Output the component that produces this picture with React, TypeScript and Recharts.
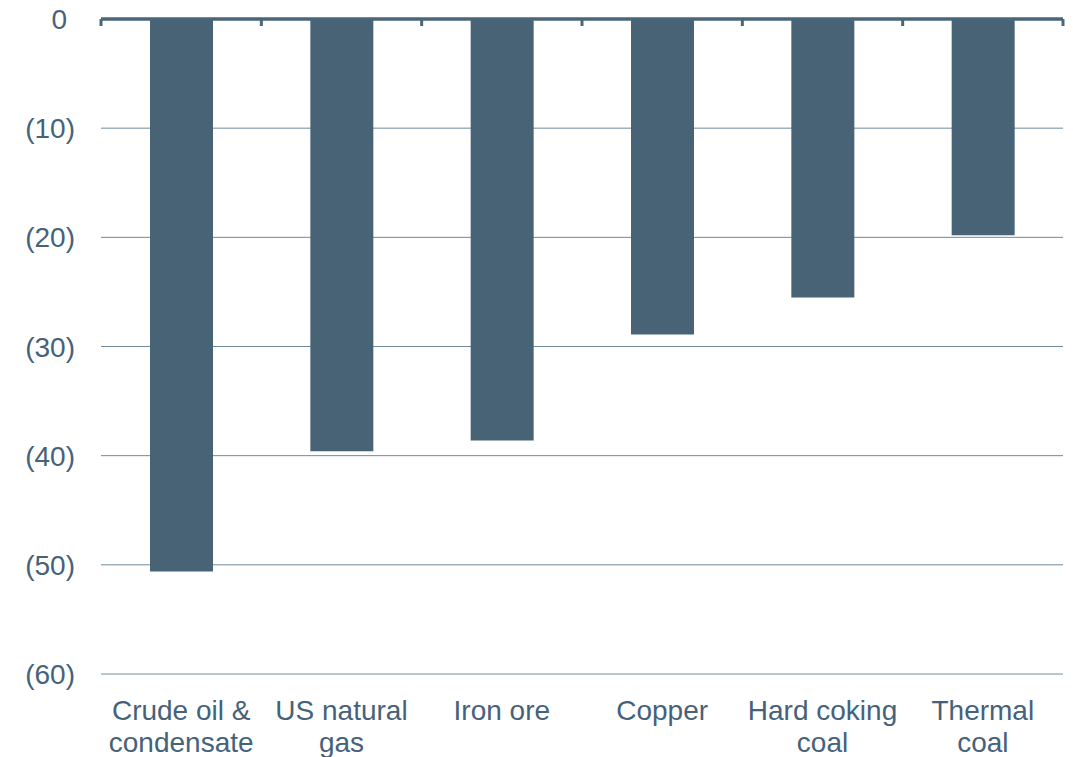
import React from 'react';
import { BarChart, Bar, XAxis, YAxis, CartesianGrid, ReferenceLine } from 'recharts';

const categories = ['Crude oil & condensate', 'US natural gas', 'Iron ore', 'Copper', 'Hard coking coal', 'Thermal coal'];
const tickLabelLines = [
  ['Crude oil &', 'condensate'],
  ['US natural', 'gas'],
  ['Iron ore'],
  ['Copper'],
  ['Hard coking', 'coal'],
  ['Thermal', 'coal'],
];
const values = [-50.6, -39.6, -38.6, -28.9, -25.5, -19.8];
const yTicks = [-60, -50, -40, -30, -20, -10, 0];

const data = categories.map((c, i) => ({ name: c, value: values[i] }));

const TEXT = '#46627A';
const BAR = '#476375';
const AXIS = '#4A667A';
const GRID = '#6F8A9B';
const FONT = 'Arial, "Liberation Sans", sans-serif';

const YTick = (props: any) => {
  const { x, y, payload } = props;
  const v = payload.value as number;
  const label = v < 0 ? `(${Math.abs(v)})` : `${v}`;
  const dx = v < 0 ? -26 : -34;
  return (
    <text x={x + dx} y={y + 10} textAnchor="end" fill={TEXT} fontSize={28} fontFamily={FONT}>
      {label}
    </text>
  );
};

const XTick = (props: any) => {
  const { x, y, index } = props;
  const lines = tickLabelLines[index] || [];
  return (
    <g>
      {lines.map((l, i) => (
        <text key={i} x={x} y={y + 46 + i * 32} textAnchor="middle" fill={TEXT} fontSize={28} fontFamily={FONT}>
          {l}
        </text>
      ))}
    </g>
  );
};

const BoundaryTick = (props: any) => {
  const { x, y, index, payload } = props;
  const half = payload && payload.offset ? payload.offset : 0;
  const last = index === categories.length - 1;
  return (
    <g>
      <line x1={x - half} y1={y} x2={x - half} y2={y + 7} stroke={AXIS} strokeWidth={3} />
      {last ? <line x1={x + half} y1={y} x2={x + half} y2={y + 7} stroke={AXIS} strokeWidth={3} /> : null}
    </g>
  );
};

export default function App() {
  return (
    <div style={{ position: 'absolute', left: 0, top: 0, width: 1073, height: 757, background: '#fff' }}>
      <BarChart width={1073} height={757} data={data} margin={{ top: 18, right: 10, left: 0, bottom: 0 }}>
        <CartesianGrid vertical={false} stroke={GRID} strokeWidth={1} />
        <YAxis
          type="number"
          domain={[-60, 0]}
          ticks={yTicks}
          width={101}
          axisLine={false}
          tickLine={false}
          tickSize={0}
          tickMargin={0}
          tick={<YTick />}
          allowDataOverflow
        />
        <XAxis
          dataKey="name"
          height={83}
          axisLine={false}
          tickLine={false}
          tickSize={0}
          tickMargin={0}
          tick={<XTick />}
          interval={0}
        />
        <Bar dataKey="value" fill={BAR} barSize={63} isAnimationActive={false} />
        <ReferenceLine y={0} stroke={AXIS} strokeWidth={3} />
        <XAxis
          xAxisId="top"
          dataKey="name"
          orientation="top"
          height={1}
          tickSize={0}
          tickMargin={0}
          axisLine={{ stroke: AXIS, strokeWidth: 3 }}
          tickLine={false}
          tick={<BoundaryTick />}
          interval={0}
        />
      </BarChart>
    </div>
  );
}
